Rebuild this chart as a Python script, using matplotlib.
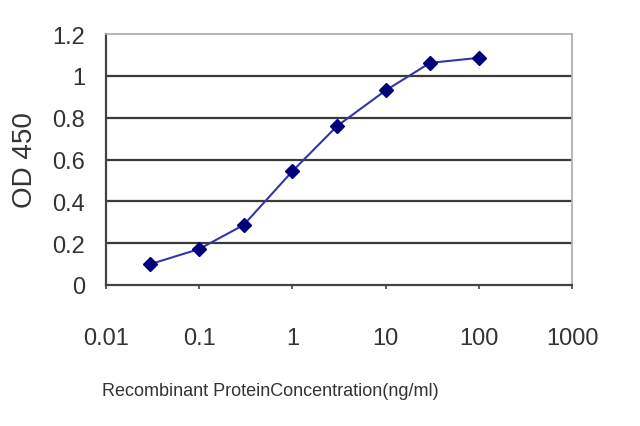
import matplotlib
matplotlib.use("Agg")
import matplotlib.pyplot as plt
from matplotlib.ticker import FixedLocator, FixedFormatter, NullLocator

# concentration (ng/ml) and OD 450 readings
conc = [0.03, 0.1, 0.3, 1, 3, 10, 30, 100]
od450 = [0.10, 0.172, 0.287, 0.544, 0.759, 0.93, 1.062, 1.086]

x_ticks = [0.01, 0.1, 1, 10, 100, 1000]
x_labels = ["0.01", "0.1", "1", "10", "100", "1000"]
y_ticks = [0, 0.2, 0.4, 0.6, 0.8, 1, 1.2]
y_labels = ["0", "0.2", "0.4", "0.6", "0.8", "1", "1.2"]

narrow = ["Liberation Sans Narrow", "Liberation Sans", "DejaVu Sans"]

fig = plt.figure(figsize=(6.4, 4.27), dpi=100)
ax = fig.add_axes([106 / 640, 1 - 286 / 427, 466 / 640, 251 / 427])

ax.set_xscale("log")
ax.set_xlim(0.01, 1000)
ax.set_ylim(0, 1.2)

for y in y_ticks[1:-1]:
    ax.axhline(y, color="#3a3a3a", lw=1.6, zorder=1)

ax.plot(conc, od450, color="#3535a8", lw=1.5, marker="D", ms=7,
        mfc="#00007a", mec="#00007a", zorder=3)

ax.xaxis.set_major_locator(FixedLocator(x_ticks))
ax.xaxis.set_major_formatter(FixedFormatter(x_labels))
ax.xaxis.set_minor_locator(NullLocator())
ax.yaxis.set_major_locator(FixedLocator(y_ticks))
ax.yaxis.set_major_formatter(FixedFormatter(y_labels))

ax.tick_params(axis="x", direction="out", length=3, width=1.2, color="#444444", pad=27)
ax.tick_params(axis="y", length=0, pad=15)
for lab in ax.get_xticklabels() + ax.get_yticklabels():
    lab.set_family(narrow)
    lab.set_fontsize(17)
    lab.set_color("#333333")

ax.spines["left"].set_color("#444444")
ax.spines["bottom"].set_color("#444444")
ax.spines["left"].set_linewidth(1.6)
ax.spines["bottom"].set_linewidth(1.6)
ax.spines["top"].set_color("#b0b0b0")
ax.spines["right"].set_color("#b0b0b0")
ax.spines["top"].set_linewidth(1.3)
ax.spines["right"].set_linewidth(1.3)

ax.set_ylabel("OD 450", family=["Liberation Sans", "DejaVu Sans"], fontsize=20,
              color="#333333", labelpad=10)
ax.set_xlabel("Recombinant ProteinConcentration(ng/ml)", family=narrow,
              fontsize=13, color="#333333", labelpad=14)
ax.xaxis.set_label_coords(0.352, -0.385)

fig.savefig("out.png", dpi=100)
